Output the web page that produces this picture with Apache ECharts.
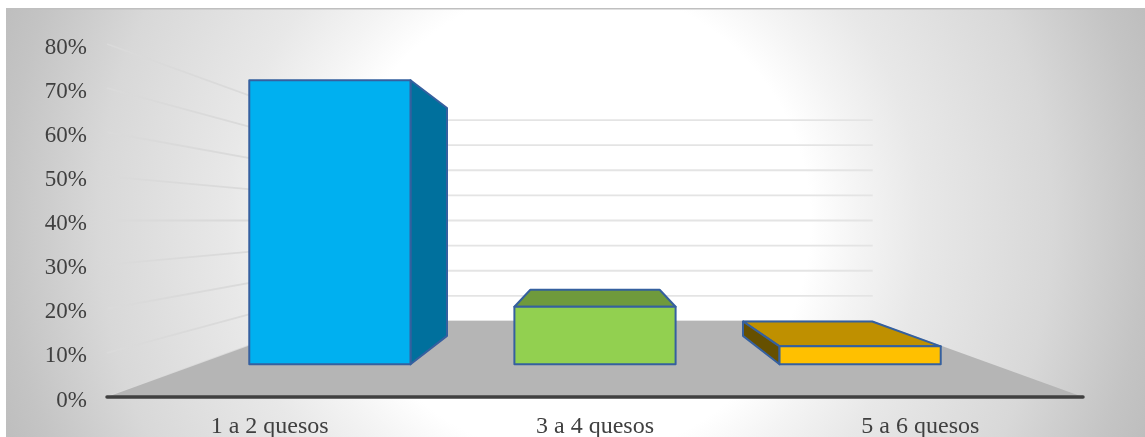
<!DOCTYPE html>
<html>
<head>
<meta charset="utf-8">
<style>html,body{margin:0;padding:0;background:#fff}#chart{width:1145px;height:437px}</style>
<script src="https://cdn.jsdelivr.net/npm/echarts@6/dist/echarts.min.js"></script>
</head>
<body>
<div id="chart"></div>
<script>
// Percentage of households by number of cheeses bought
const categories = ['1 a 2 quesos', '3 a 4 quesos', '5 a 6 quesos'];
const shares = [79, 16, 5];
const wallTicks = [0, 10, 20, 30, 40, 50, 60, 70, 80];

// Face colours of each column: front, top, side
const frontColors = ['#00b0f0', '#92d050', '#ffc000'];
const topColors = ['#00b0f0', '#6f9a3c', '#bf9000'];
const sideColors = ['#00709d', '#6f9a3c', '#665000'];
const edgeColor = '#35609f';

// Perspective box: depth runs 0 (front plane) to 1 (back wall)
const DEPTH_K = 0.757;
const BAR_NEAR = 0.3;
const BAR_FAR = 0.7;
const BAR_WIDTH = 0.608;

function scaleAt(depth) {
  return 1 / (1 + DEPTH_K * depth);
}
function vanishing(api) {
  return api.coord([1, 40]);
}
function project(api, pt, depth) {
  const v = vanishing(api);
  const s = scaleAt(depth);
  return [v[0] + (pt[0] - v[0]) * s, v[1] + (pt[1] - v[1]) * s];
}
function frontEdges(api) {
  const band = api.size([1, 0])[0];
  const c0 = api.coord([0, 0]);
  const c2 = api.coord([2, 0]);
  return [c0[0] - band / 2, c2[0] + band / 2];
}

function renderWallLine(params, api) {
  const value = api.value(0);
  const edges = frontEdges(api);
  const y = api.coord([1, value])[1];
  const a = [edges[0], y];
  const b = project(api, a, 1);
  const c = project(api, [edges[1], y], 1);
  return {
    type: 'group',
    children: [
      { type: 'line', shape: { x1: a[0], y1: a[1], x2: b[0], y2: b[1] }, style: { stroke: '#dadada', lineWidth: 1.8, fill: null } },
      { type: 'line', shape: { x1: b[0], y1: b[1], x2: c[0], y2: c[1] }, style: { stroke: '#e4e4e4', lineWidth: 1.8, fill: null } }
    ]
  };
}

function renderFloor(params, api) {
  const edges = frontEdges(api);
  const y = api.coord([1, 0])[1];
  const points = [
    [edges[0], y],
    project(api, [edges[0], y], 1),
    project(api, [edges[1], y], 1),
    [edges[1], y]
  ];
  return { type: 'polygon', shape: { points }, style: { fill: '#b5b5b5' } };
}

function renderColumn(params, api) {
  const i = api.value(0);
  const centre = api.coord([i, 0]);
  const top = api.coord([i, api.value(1)])[1];
  const half = api.size([1, 0])[0] * BAR_WIDTH / 2;
  const v = vanishing(api);
  const xL = centre[0] - half, xR = centre[0] + half, yB = centre[1];

  const n = (x, y) => project(api, [x, y], BAR_NEAR);
  const f = (x, y) => project(api, [x, y], BAR_FAR);
  const face = (points, fill) => ({
    type: 'polygon',
    shape: { points },
    style: { fill, stroke: edgeColor, lineWidth: 2, lineJoin: 'round' }
  });

  const children = [];
  if (top > v[1]) {
    children.push(face([n(xL, top), f(xL, top), f(xR, top), n(xR, top)], topColors[i]));
  }
  if (xR < v[0]) {
    children.push(face([n(xR, yB), n(xR, top), f(xR, top), f(xR, yB)], sideColors[i]));
  } else if (xL > v[0]) {
    children.push(face([n(xL, yB), n(xL, top), f(xL, top), f(xL, yB)], sideColors[i]));
  }
  children.push(face([n(xL, yB), n(xL, top), n(xR, top), n(xR, yB)], frontColors[i]));
  return { type: 'group', children };
}

const textStyle = { color: '#404040', fontFamily: '"Liberation Serif", "Times New Roman", serif' };

const chart = echarts.init(document.getElementById('chart'), null, { renderer: 'canvas' });
chart.setOption({
  animation: false,
  graphic: [
    {
      type: 'rect', z: -10, silent: true,
      shape: { x: 6, y: 9, width: 1139, height: 428 },
      style: {
        fill: new echarts.graphic.RadialGradient(575, 222, 620, [
          { offset: 0, color: '#ffffff' },
          { offset: 0.38, color: '#ffffff' },
          { offset: 0.46, color: '#f4f4f4' },
          { offset: 0.56, color: '#e8e8e8' },
          { offset: 0.77, color: '#d8d8d8' },
          { offset: 0.92, color: '#c4c4c4' },
          { offset: 1, color: '#bcbcbc' }
        ], true)
      }
    },
    {
      type: 'rect', z: -9, silent: true,
      shape: { x: 6, y: 8, width: 1139, height: 1.5 },
      style: { fill: '#bfbfbf' }
    }
  ],
  grid: { left: 107, right: 62, top: 44, bottom: 40, outerBoundsMode: 'none' },
  xAxis: {
    type: 'category',
    data: categories,
    z: 5,
    axisTick: { show: false },
    axisLine: { lineStyle: { color: '#404040', width: 3.5, cap: 'round' } },
    axisLabel: Object.assign({ margin: 18, fontSize: 24 }, textStyle)
  },
  yAxis: {
    type: 'value',
    min: 0,
    max: 80,
    interval: 10,
    axisLine: { show: false },
    axisTick: { show: false },
    splitLine: { show: false },
    axisLabel: {
      margin: 20,
      formatter: '{v|{value}%}',
      rich: { v: Object.assign({ fontSize: 23, verticalAlign: 'bottom', padding: [7, 0, 0, 0] }, textStyle) }
    }
  },
  series: [
    { type: 'custom', z: 1, silent: true, clip: false, encode: { y: 0 }, data: wallTicks.map(t => [t]), renderItem: renderWallLine },
    { type: 'custom', z: 2, silent: true, clip: false, data: [[1, 0]], renderItem: renderFloor },
    { type: 'custom', z: 3, silent: true, clip: false, encode: { x: 0, y: 1 }, data: shares.map((v, i) => [i, v]), renderItem: renderColumn }
  ]
});
</script>
</body>
</html>
